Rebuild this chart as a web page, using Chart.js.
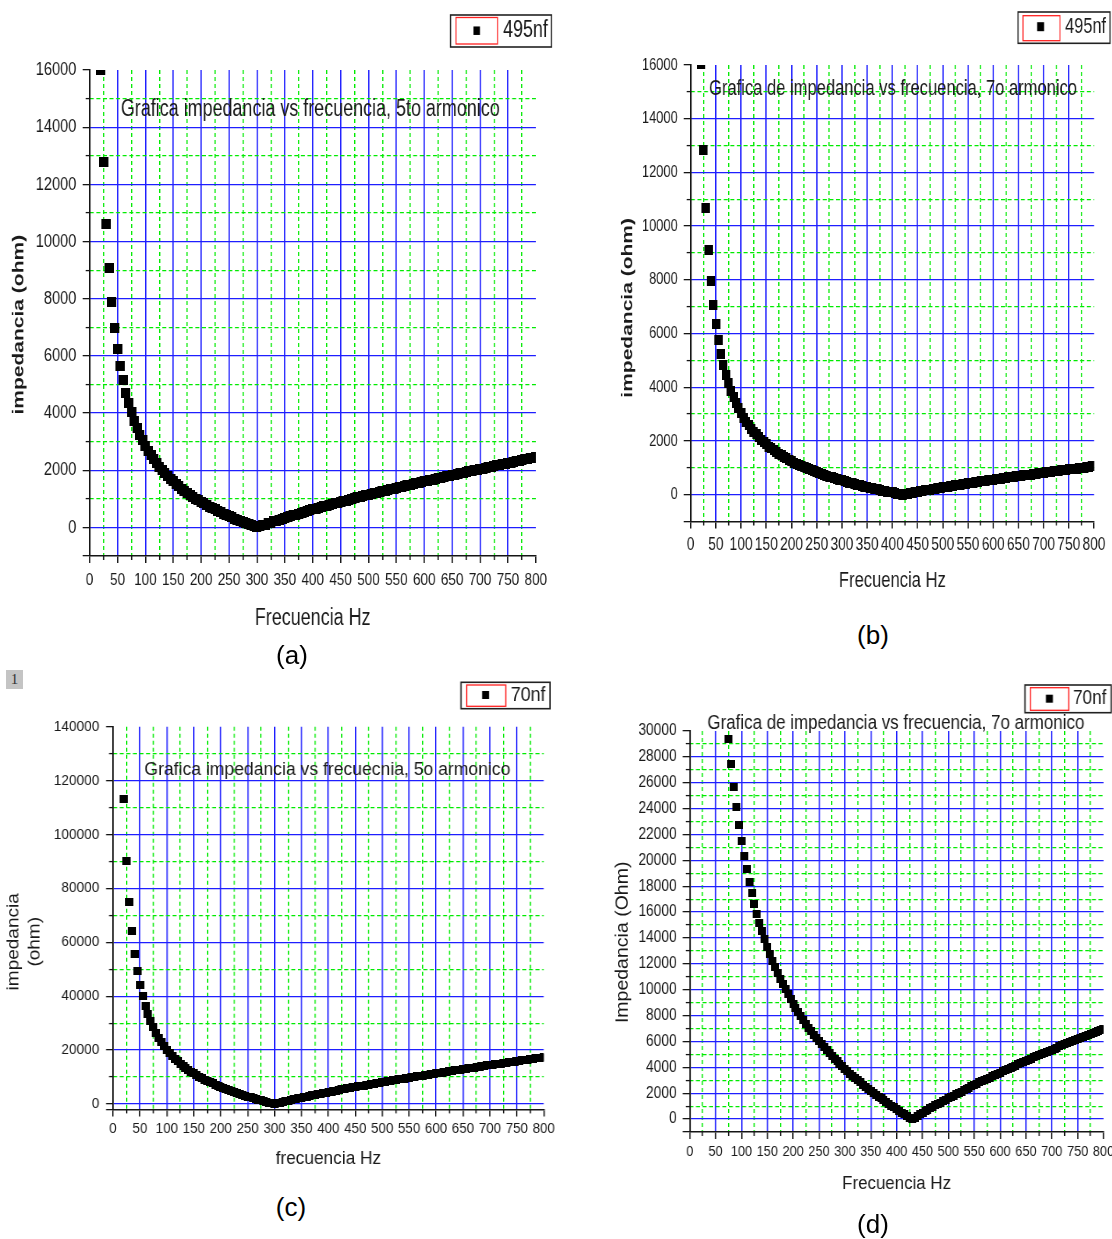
<!DOCTYPE html>
<html><head><meta charset="utf-8">
<script src="https://cdn.jsdelivr.net/npm/chart.js@4.4.1/dist/chart.umd.min.js"></script>
<style>
html,body{margin:0;padding:0;width:1112px;height:1239px;overflow:hidden;background:#fff;}
canvas{position:absolute;}
.lab{position:absolute;font-family:"Liberation Sans",Arial,sans-serif;font-size:26px;color:#000;transform:translate(-50%,-50%);white-space:nowrap;}
.one{position:absolute;left:6px;top:670px;width:17px;height:19px;background:#c4c4c4;font:15px "Liberation Serif",serif;color:#333;text-align:center;line-height:19px;}
</style></head><body>
<canvas id="ca" style="left:0;top:0"></canvas>
<canvas id="cb" style="left:560px;top:0"></canvas>
<canvas id="cc" style="left:0;top:670px"></canvas>
<canvas id="cd" style="left:560px;top:670px"></canvas>
<div class="lab" style="left:292px;top:655px">(a)</div>
<div class="lab" style="left:873px;top:635px">(b)</div>
<div class="lab" style="left:291px;top:1207px">(c)</div>
<div class="lab" style="left:873px;top:1224px">(d)</div>
<div class="one">1</div>
<script>
// ---------------- data ----------------
const freq = [20,25,30,35,40,45,50,55,60,65,70,75,80,85,90,95,100,105,110,115,120,125,130,135,140,145,150,155,160,165,170,175,180,185,190,195,200,205,210,215,220,225,230,235,240,245,250,255,260,265,270,275,280,285,290,295,300,305,310,315,320,325,330,335,340,345,350,355,360,365,370,375,380,385,390,395,400,405,410,415,420,425,430,435,440,445,450,455,460,465,470,475,480,485,490,495,500,505,510,515,520,525,530,535,540,545,550,555,560,565,570,575,580,585,590,595,600,605,610,615,620,625,630,635,640,645,650,655,660,665,670,675,680,685,690,695,700,705,710,715,720,725,730,735,740,745,750,755,760,765,770,775,780,785,790,795,800];
const freqD = [75,80,85,90,95,100,105,110,115,120,125,130,135,140,145,150,155,160,165,170,175,180,185,190,195,200,205,210,215,220,225,230,235,240,245,250,255,260,265,270,275,280,285,290,295,300,305,310,315,320,325,330,335,340,345,350,355,360,365,370,375,380,385,390,395,400,405,410,415,420,425,430,435,440,445,450,455,460,465,470,475,480,485,490,495,500,505,510,515,520,525,530,535,540,545,550,555,560,565,570,575,580,585,590,595,600,605,610,615,620,625,630,635,640,645,650,655,660,665,670,675,680,685,690,695,700,705,710,715,720,725,730,735,740,745,750,755,760,765,770,775,780,785,790,795,800];

const impA = [16010,12770,10610,9060,7900,6980,6250,5650,5150,4710,
4340,4020,3730,3480,3250,3050,2860,2690,2530,2390,
2250,2130,2010,1900,1800,1700,1610,1520,1440,1360,
1280,1210,1140,1080,1010,950,890,840,780,730,
680,630,580,530,480,440,390,350,310,270,
230,190,150,110,70,40,0,40,70,100,
140,170,210,240,270,300,330,360,390,420,
450,480,510,540,570,600,630,650,680,710,
740,760,790,820,840,870,890,920,940,970,
1000,1020,1050,1070,1100,1120,1140,1170,1190,1220,
1240,1260,1290,1310,1330,1360,1380,1400,1430,1450,
1470,1500,1520,1540,1560,1590,1610,1630,1650,1670,
1700,1720,1740,1760,1790,1810,1830,1850,1870,1890,
1910,1940,1960,1980,2000,2020,2040,2060,2080,2110,
2130,2150,2170,2190,2210,2230,2250,2270,2290,2310,
2330,2350,2380,2400,2420,2440,2460];

const impB = [16040,12820,10660,9120,7970,7060,6340,5750,5250,4830,
4470,4150,3870,3630,3410,3210,3030,2870,2720,2590,
2460,2340,2240,2140,2040,1950,1870,1790,1720,1650,
1580,1520,1460,1400,1350,1290,1240,1190,1150,1100,
1060,1020,980,940,900,870,830,800,760,730,
700,670,640,610,580,550,530,500,470,450,
420,400,370,350,330,300,280,260,240,220,
200,170,150,130,110,90,80,60,40,20,
0,20,40,50,70,90,110,120,140,160,
170,190,210,220,240,250,270,280,300,320,
330,350,360,370,390,400,420,430,450,460,
480,490,500,520,530,550,560,570,590,600,
610,630,640,650,670,680,690,700,720,730,
740,750,770,780,790,800,820,830,840,850,
870,880,890,900,920,930,940,950,960,970,
990,1000,1010,1020,1030,1050,1060];

const impC = [113180,90310,75030,64080,55830,49390,44210,39950,36380,33340,
30710,28420,26400,24600,22990,21530,20210,19000,17890,16870,
15920,15030,14210,13430,12700,12020,11370,10750,10170,9610,
9080,8570,8080,7620,7170,6730,6320,5910,5520,5140,
4780,4420,4080,3740,3410,3090,2780,2470,2180,1890,
1600,1320,1050,780,510,250,0,250,500,740,
980,1220,1450,1680,1900,2130,2350,2560,2780,2990,
3200,3410,3620,3820,4020,4220,4420,4620,4810,5010,
5200,5390,5580,5760,5950,6130,6320,6500,6680,6860,
7040,7210,7390,7570,7740,7910,8090,8260,8430,8600,
8770,8930,9100,9270,9430,9600,9760,9920,10090,10250,
10410,10570,10730,10890,11050,11210,11370,11530,11680,11840,
12000,12150,12310,12460,12620,12770,12920,13080,13230,13380,
13530,13690,13840,13990,14140,14290,14440,14590,14740,14880,
15030,15180,15330,15480,15620,15770,15920,16060,16210,16350,
16500,16650,16790,16940,17080,17220,17370];

const impD = [29390,27440,25700,24160,22770,21510,20360,19320,18360,17470,
16650,15890,15180,14520,13900,13310,12760,12240,11750,11280,
10840,10420,10020,9630,9260,8910,8570,8250,7930,7630,
7340,7060,6790,6520,6270,6020,5780,5550,5320,5100,
4890,4680,4470,4270,4080,3890,3700,3520,3340,3170,
3000,2830,2670,2510,2350,2190,2040,1890,1740,1600,
1450,1310,1170,1030,900,770,630,500,380,250,
120,0,120,240,360,480,600,710,830,940,
1050,1170,1280,1390,1490,1600,1710,1810,1920,2020,
2130,2230,2330,2430,2530,2630,2730,2830,2920,3020,
3120,3210,3310,3400,3500,3590,3680,3770,3870,3960,
4050,4140,4230,4320,4410,4500,4580,4670,4760,4850,
4930,5020,5100,5190,5280,5360,5440,5530,5610,5700,
5780,5860,5950,6030,6110,6190,6270,6350,6440,6520,
6600,6680,6760,6840,6920,7000];

const xMajor = [0,50,100,150,200,250,300,350,400,450,500,550,600,650,700,750,800];
const xMinor = [25,75,125,175,225,275,325,375,425,475,525,575,625,675,725,775];
const yMajorAB = [-1000,0,2000,4000,6000,8000,10000,12000,14000,16000];
const yMinorAB = [1000,3000,5000,7000,9000,11000,13000,15000];
const yMajorC = [-2000,0,20000,40000,60000,80000,100000,120000,140000];
const yMinorC = [10000,30000,50000,70000,90000,110000,130000];
const yMajorD = [-1000,0,2000,4000,6000,8000,10000,12000,14000,16000,18000,20000,22000,24000,26000,28000,30000];
const yMinorD = [1000,3000,5000,7000,9000,11000,13000,15000,17000,19000,21000,23000,25000,27000,29000];

// ---------------- styling ----------------
const BLUE = 'rgb(30,30,255)', GREEN = 'rgb(0,235,0)', AX = '#151515', TXT = '#1a1a1a';
const CLEAR = 'rgba(0,0,0,0)';
const SANS = "'Liberation Sans',Arial,Helvetica,sans-serif";

function sq(w, h) {
  const c = document.createElement('canvas');
  c.width = w; c.height = h;
  const g = c.getContext('2d');
  g.fillStyle = '#000'; g.fillRect(0, 0, w, h);
  return c;
}

const decor = {
  id: 'decor',
  afterDraw(chart, args, o) {
    const ctx = chart.ctx;
    ctx.save();
    ctx.textBaseline = 'middle';
    ctx.textAlign = 'left';
    ctx.fillStyle = TXT;
    ctx.font = o.titleFont;
    ctx.fillText(o.title, o.tx, o.ty, o.tw);
    const b = o.box, r = o.inner, m = o.marker;
    ctx.lineWidth = 1.6; ctx.strokeStyle = '#222';
    ctx.strokeRect(b[0], b[1], b[2], b[3]);
    ctx.lineWidth = 1.3; ctx.strokeStyle = '#ff2020';
    ctx.strokeRect(r[0], r[1], r[2], r[3]);
    ctx.fillStyle = '#000';
    ctx.fillRect(m[0] - m[2] / 2, m[1] - m[3] / 2, m[2], m[3]);
    ctx.fillStyle = TXT;
    ctx.font = o.legFont;
    ctx.fillText(chart.data.datasets[0].label, o.lx, o.ly, o.lw);
    ctx.restore();
  }
};

function setTicks(arr) { return sc => { sc.ticks = arr.map(v => ({value: v})); }; }

// All geometry in s is given in screen (CSS) pixels relative to the canvas;
// the canvas is drawn wider and squeezed horizontally by s.sx (condensed lettering).
function makeChart(id, s) {
  const cv = document.getElementById(id);
  const Wi = Math.round(s.cssW / s.sx);
  const k = Wi / s.cssW;
  cv.width = Wi; cv.height = s.cssH;
  cv.style.width = s.cssW + 'px'; cv.style.height = s.cssH + 'px';
  const yTL = 7 * k;
  const yPad = (s.areaL - s.yLabR) * k - yTL;
  const xPad = s.xLabCy - s.areaB - 7 - 0.6 * s.xTickSize;
  const xPb = s.cssH - s.xTitleCy - 0.6 * s.xTitleSize;
  const yPt = (s.yTitleCx - s.padL) * k - 0.6 * s.yTitleSize;
  const d = s.decor;
  const dec = {
    title: d.title, titleFont: d.titleFont, tx: d.tx * k, ty: d.ty, tw: d.tw * k,
    box: [d.box[0] * k, d.box[1], d.box[2] * k, d.box[3]],
    inner: [d.inner[0] * k, d.inner[1], d.inner[2] * k, d.inner[3]],
    marker: [d.marker[0] * k, d.marker[1], d.marker[2] * k, d.marker[3]],
    legFont: d.legFont, lx: d.lx * k, ly: d.ly, lw: d.lw * k
  };
  const pts = s.fx.map((f, i) => ({x: f, y: s.vy[i]}));
  return new Chart(cv, {
    type: 'scatter',
    data: {datasets: [{label: s.label, data: pts, xAxisID: 'x', yAxisID: 'y',
      pointStyle: sq(Math.round(s.mw * k), s.mh), pointRadius: 5, pointBorderWidth: 0,
      backgroundColor: '#000', borderColor: '#000', clip: 0}]},
    options: {
      responsive: false, animation: false, events: [],
      layout: {padding: {left: s.padL * k, right: (s.cssW - s.areaR) * k, top: s.areaT, bottom: 0}},
      plugins: {legend: {display: false}, tooltip: {enabled: false}, decor: dec},
      scales: {
        x: {type: 'linear', axis: 'x', position: 'bottom', weight: 1, display: true, min: 0, max: 800,
          afterBuildTicks: setTicks(xMajor), afterFit: sc => { sc.height = s.cssH - s.areaB; },
          grid: {color: c => (c.tick && c.tick.value > 0 && c.tick.value < 800) ? BLUE : CLEAR,
                 lineWidth: 1.3 * k, tickColor: AX, tickLength: 7, tickWidth: 1.3 * k},
          border: {display: true, color: AX, width: 1.6},
          ticks: {autoSkip: false, maxRotation: 0, minRotation: 0, padding: xPad, color: TXT,
                  font: {family: SANS, size: s.xTickSize}, callback: v => String(v)},
          title: {display: true, text: s.xTitle, color: TXT, font: {family: SANS, size: s.xTitleSize},
                  padding: {top: 0, bottom: xPb}}},
        xm: {type: 'linear', axis: 'x', position: 'bottom', weight: 0, display: true, min: 0, max: 800,
          afterBuildTicks: setTicks(xMinor), afterFit: sc => { sc.height = 0; },
          grid: {color: GREEN, lineWidth: 1.2 * k, tickColor: AX, tickLength: 4, tickWidth: 1.3 * k},
          border: {display: false, dash: [4, 3]},
          ticks: {display: false}},
        y: {type: 'linear', axis: 'y', position: 'left', weight: 1, display: true, min: s.ymin, max: s.ymax,
          afterBuildTicks: setTicks(s.yMajor), afterFit: sc => { sc.width = (s.areaL - s.padL) * k; },
          grid: {color: c => (c.tick && c.tick.value >= 0 && c.tick.value < s.ymax) ? BLUE : CLEAR,
                 lineWidth: 1.3, tickColor: AX, tickLength: yTL, tickWidth: 1.3},
          border: {display: true, color: AX, width: 1.6 * k},
          ticks: {autoSkip: false, padding: yPad, color: TXT, font: {family: SANS, size: s.yTickSize},
                  callback: v => (v < 0 ? '' : String(v))},
          title: {display: true, text: s.yTitle, color: TXT,
                  font: {family: SANS, size: s.yTitleSize, weight: s.yTitleWeight},
                  padding: {top: yPt, bottom: 0}}},
        ym: {type: 'linear', axis: 'y', position: 'left', weight: 0, display: true, min: s.ymin, max: s.ymax,
          afterBuildTicks: setTicks(s.yMinor), afterFit: sc => { sc.width = 0; },
          grid: {color: GREEN, lineWidth: 1.2, tickColor: AX, tickLength: 4 * k, tickWidth: 1.3},
          border: {display: false, dash: [4 * k, 2.6 * k]},
          ticks: {display: false}}
      }
    },
    plugins: [decor]
  });
}

// (a)
makeChart('ca', {
  cssW: 560, cssH: 640, sx: 0.78,
  areaL: 89.6, areaR: 535.8, areaT: 70, areaB: 556, padL: 0,
  fx: freq, vy: impA, label: '495nf', mw: 9, mh: 10,
  ymin: -1000, ymax: 16000, yMajor: yMajorAB, yMinor: yMinorAB,
  xTickSize: 17.4, xLabCy: 580, xTitle: 'Frecuencia Hz', xTitleSize: 23, xTitleCy: 619,
  yTickSize: 18.7, yLabR: 76.3,
  yTitle: 'impedancia (ohm)    ', yTitleSize: 21, yTitleWeight: 'bold', yTitleCx: 19,
  decor: {title: 'Grafica impedancia vs frecuencia, 5to armonico', titleFont: '23px ' + SANS, tx: 120.8, ty: 110, tw: 385,
    box: [450.5, 15, 101, 32], inner: [456, 17.5, 41.5, 26.5], marker: [476.7, 30.7, 6.5, 8.5],
    legFont: '23px ' + SANS, lx: 503, ly: 31, lw: 45}
});

// (b)
makeChart('cb', {
  cssW: 552, cssH: 600, sx: 0.76,
  areaL: 130.7, areaR: 534, areaT: 65, areaB: 521.5, padL: 50,
  fx: freq, vy: impB, label: '495nf', mw: 8, mh: 10,
  ymin: -1000, ymax: 16000, yMajor: yMajorAB, yMinor: yMinorAB,
  xTickSize: 18.1, xLabCy: 545, xTitle: 'Frecuencia Hz', xTitleSize: 21.8, xTitleCy: 580.7,
  yTickSize: 16.9, yLabR: 117.7,
  yTitle: 'impedancia (ohm)     ', yTitleSize: 21, yTitleWeight: 'bold', yTitleCx: 67.5,
  decor: {title: 'Grafica de impedancia vs frecuencia, 7o armonico', titleFont: '21.8px ' + SANS, tx: 149, ty: 89.3, tw: 368,
    box: [458, 12, 92, 31.3], inner: [463, 15.7, 37, 25], marker: [480.6, 26.7, 7, 9],
    legFont: '21.6px ' + SANS, lx: 505, ly: 27, lw: 41}
});

// (c)
makeChart('cc', {
  cssW: 560, cssH: 510, sx: 0.92,
  areaL: 113, areaR: 543.7, areaT: 56.7, areaB: 439.4, padL: 0,
  fx: freq, vy: impC, label: '70nf', mw: 8, mh: 8,
  ymin: -2000, ymax: 140000, yMajor: yMajorC, yMinor: yMinorC,
  xTickSize: 14.5, xLabCy: 459, xTitle: 'frecuencia Hz', xTitleSize: 18.8, xTitleCy: 489,
  yTickSize: 14.8, yLabR: 99.3,
  yTitle: ['impedancia         ', '(ohm)         '], yTitleSize: 19, yTitleWeight: 'normal', yTitleCx: 13.5,
  decor: {title: 'Grafica impedancia vs frecuecnia, 5o armonico', titleFont: '19.1px ' + SANS, tx: 144.4, ty: 99.3, tw: 367,
    box: [461, 12.3, 89, 26.4], inner: [466.7, 15, 39, 21.3], marker: [485.6, 25, 7, 8],
    legFont: '19.4px ' + SANS, lx: 510.8, ly: 25.5, lw: 35}
});

// (d)
makeChart('cd', {
  cssW: 570, cssH: 540, sx: 0.88,
  areaL: 129.7, areaR: 543.5, areaT: 61, areaB: 462, padL: 50,
  fx: freqD, vy: impD, label: '70nf', mw: 8, mh: 8,
  ymin: -1000, ymax: 30000, yMajor: yMajorD, yMinor: yMinorD,
  xTickSize: 14.5, xLabCy: 481.7, xTitle: 'Frecuencia Hz', xTitleSize: 19.2, xTitleCy: 513.3,
  yTickSize: 15.6, yLabR: 116.6,
  yTitle: 'Impedancia (Ohm)    ', yTitleSize: 19.5, yTitleWeight: 'normal', yTitleCx: 63,
  decor: {title: 'Grafica de impedancia vs frecuencia, 7o armonico', titleFont: '19.3px ' + SANS, tx: 147.3, ty: 54, tw: 378,
    box: [465, 15, 86.2, 27.7], inner: [470.3, 17.7, 38.5, 22.6], marker: [489.4, 28.7, 7, 8],
    legFont: '19.5px ' + SANS, lx: 513, ly: 29, lw: 34}
});
</script>
</body></html>
